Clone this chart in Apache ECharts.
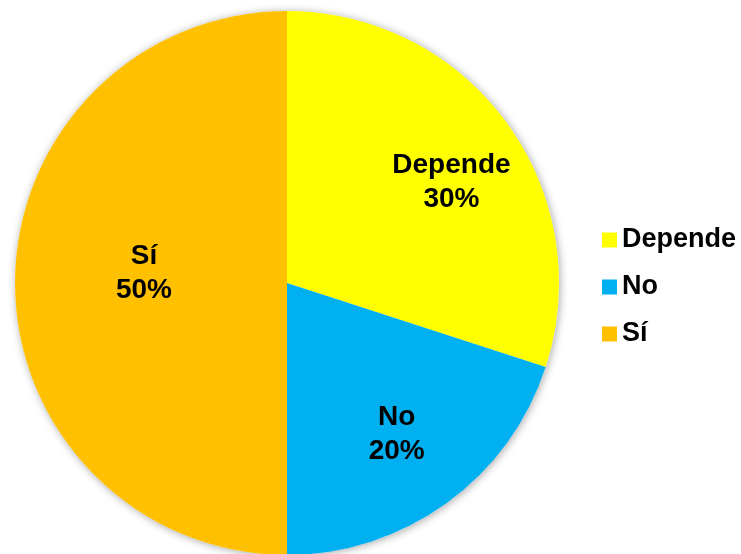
<!DOCTYPE html>
<html>
<head>
<meta charset="utf-8">
<script src="https://cdn.jsdelivr.net/npm/echarts@6/dist/echarts.min.js"></script>
<style>html,body{margin:0;padding:0;background:#fff}#c{width:741px;height:554px}</style>
</head>
<body>
<div id="c"></div>
<script>
var categories = ['Depende', 'No', 'Sí'];
var values = [30, 20, 50];
var colors = ['#FFFF00', '#00B0F0', '#FFC000'];
var labelOffsets = [[52, -19], [28, 39], [-4, -10]];

var total = values.reduce(function (a, b) { return a + b; }, 0);
var font = '"Liberation Sans", Arial, sans-serif';

var chart = echarts.init(document.getElementById('c'), null, {renderer: 'canvas'});
chart.setOption({
  animation: false,
  backgroundColor: '#ffffff',
  legend: {
    data: categories,
    orient: 'vertical',
    left: 597,
    top: 220,
    itemWidth: 15,
    itemHeight: 15,
    itemGap: 17,
    icon: 'rect',
    textStyle: {fontFamily: font, fontSize: 27, fontWeight: 'bold', color: '#000', lineHeight: 30}
  },
  series: [
    {
      type: 'pie',
      silent: true,
      center: [287, 283],
      radius: 272,
      z: 1,
      label: {show: false},
      labelLine: {show: false},
      itemStyle: {color: '#ffffff', shadowBlur: 8, shadowColor: 'rgba(0,0,0,0.35)', shadowOffsetX: 1, shadowOffsetY: 1},
      data: [{name: '_bg', value: total}]
    },
    {
      type: 'pie',
      center: [287, 283],
      radius: 272,
      startAngle: 90,
      clockwise: true,
      z: 2,
      labelLine: {show: false},
      label: {
        show: true,
        position: 'inside',
        formatter: function (p) { return p.name + '\n' + Math.round(p.percent) + '%'; },
        fontFamily: font,
        fontSize: 28,
        fontWeight: 'bold',
        color: '#000',
        lineHeight: 34
      },
      emphasis: {disabled: true},
      data: categories.map(function (c, i) {
        return {
          name: c,
          value: values[i],
          itemStyle: {color: colors[i]},
          label: {offset: labelOffsets[i]}
        };
      })
    }
  ]
});
</script>
</body>
</html>
